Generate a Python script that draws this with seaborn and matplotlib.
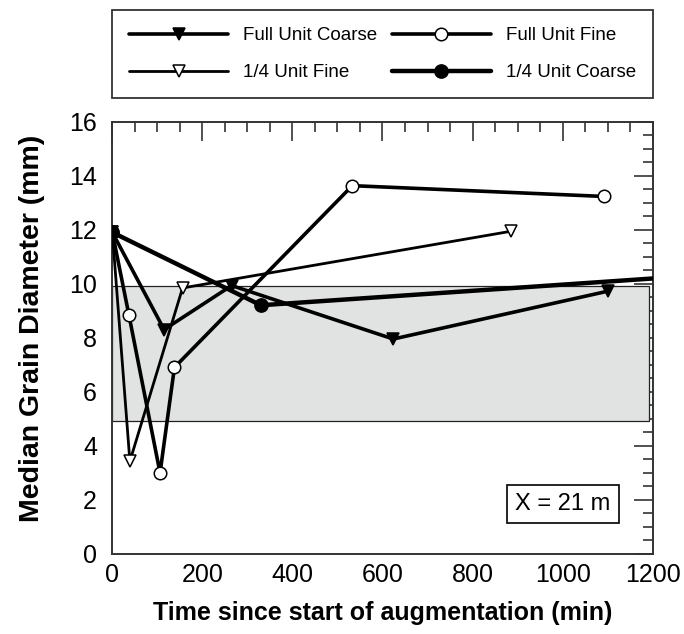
import numpy as np
import pandas as pd
import matplotlib
matplotlib.use("Agg")
import matplotlib.pyplot as plt
import seaborn as sns
from matplotlib.patches import Rectangle
from matplotlib.ticker import MultipleLocator

# ---------------------
# Data
# ---------------------
fuc_time = [0, 115, 265, 624, 1100]
fuc_d50 = [11.9, 8.3, 9.93, 7.95, 9.72]

fuf_time = [0, 37, 106, 138, 533, 1092]
fuf_d50 = [11.9, 8.83, 2.99, 6.9, 13.63, 13.23]

quf_time = [0, 39, 156, 885]
quf_d50 = [11.9, 3.42, 9.84, 11.94]

quc_time = [0, 330, 1400]
quc_d50 = [11.9, 9.2, 10.42]

band_low, band_high = 4.9, 9.9
band_end = 1192

# ---------------------
# Style
# ---------------------
sns.set_theme(style="white", rc={"text.color": "black", "axes.labelcolor": "black",
                                 "xtick.color": "black", "ytick.color": "black"})
plt.rcParams["font.family"] = ["Liberation Sans", "DejaVu Sans"]

fig = plt.figure(figsize=(6.84, 6.34), dpi=100)
ax = fig.add_axes([0.1642, 0.1267, 0.7900, 0.6814])

ax.add_patch(Rectangle((0, band_low), band_end, band_high - band_low,
                       facecolor="#e1e2e2", edgecolor="#222222", linewidth=0.9, zorder=1))

series = [
    ("Full Unit Coarse", fuc_time, fuc_d50, "v", "black", 2.6, 8.5),
    ("Full Unit Fine", fuf_time, fuf_d50, "o", "white", 2.6, 9.0),
    ("1/4 Unit Fine", quf_time, quf_d50, "v", "white", 2.0, 9.0),
    ("1/4 Unit Coarse", quc_time, quc_d50, "o", "black", 3.2, 9.5),
]

for name, t, d, mk, fc, lw, ms in series:
    df = pd.DataFrame({"time": t, "d50": d})
    sns.lineplot(data=df, x="time", y="d50", ax=ax, sort=False, estimator=None,
                 color="black", linewidth=lw, marker=mk, markersize=ms,
                 markerfacecolor=fc, markeredgecolor="black", markeredgewidth=1.1,
                 label=name, zorder=3, legend=False)

ax.set_xlim(0, 1200)
ax.set_ylim(0, 16)
ax.xaxis.set_major_locator(MultipleLocator(200))
ax.xaxis.set_minor_locator(MultipleLocator(50))
ax.yaxis.set_major_locator(MultipleLocator(2))
ax.yaxis.set_minor_locator(MultipleLocator(0.5))

ax.tick_params(which="both", direction="in", top=True, right=True, color="#333333", width=1.2,
               labelcolor="black")
ax.tick_params(which="major", length=13.5, labelsize=18)
ax.tick_params(axis="x", which="major", pad=7)
ax.tick_params(axis="y", which="major", pad=11)
ax.tick_params(which="minor", length=7)
for sp in ax.spines.values():
    sp.set_color("#333333")
    sp.set_linewidth(1.4)

ax.set_xlabel("Time since start of augmentation (min)", fontsize=18, fontweight="bold", labelpad=10)
ax.set_ylabel("Median Grain Diameter (mm)", fontsize=20.5, fontweight="bold")
ax.yaxis.set_label_coords(-0.125, 0.522)

ax.text(0.834, 0.115, "X = 21 m", transform=ax.transAxes, fontsize=17, ha="center", va="center",
        bbox=dict(boxstyle="square,pad=0.35", facecolor="white", edgecolor="black", linewidth=1.2))

# legend fills row by row in the original: reorder for matplotlib's column filling
handles, labels = ax.get_legend_handles_labels()
order = [0, 2, 1, 3]
leg = fig.legend([handles[i] for i in order], [labels[i] for i in order], ncol=2, loc="lower left",
                 bbox_to_anchor=(0.1637, 0.8454, 0.791, 0.142), mode="expand", borderaxespad=0,
                 fontsize=13.5, frameon=True, fancybox=False, handlelength=5.3,
                 handletextpad=0.8, columnspacing=1.0, labelspacing=1.05, borderpad=0.9)
leg.get_frame().set_edgecolor("black")
leg.get_frame().set_linewidth(1.3)

fig.savefig("out.png", dpi=100)
